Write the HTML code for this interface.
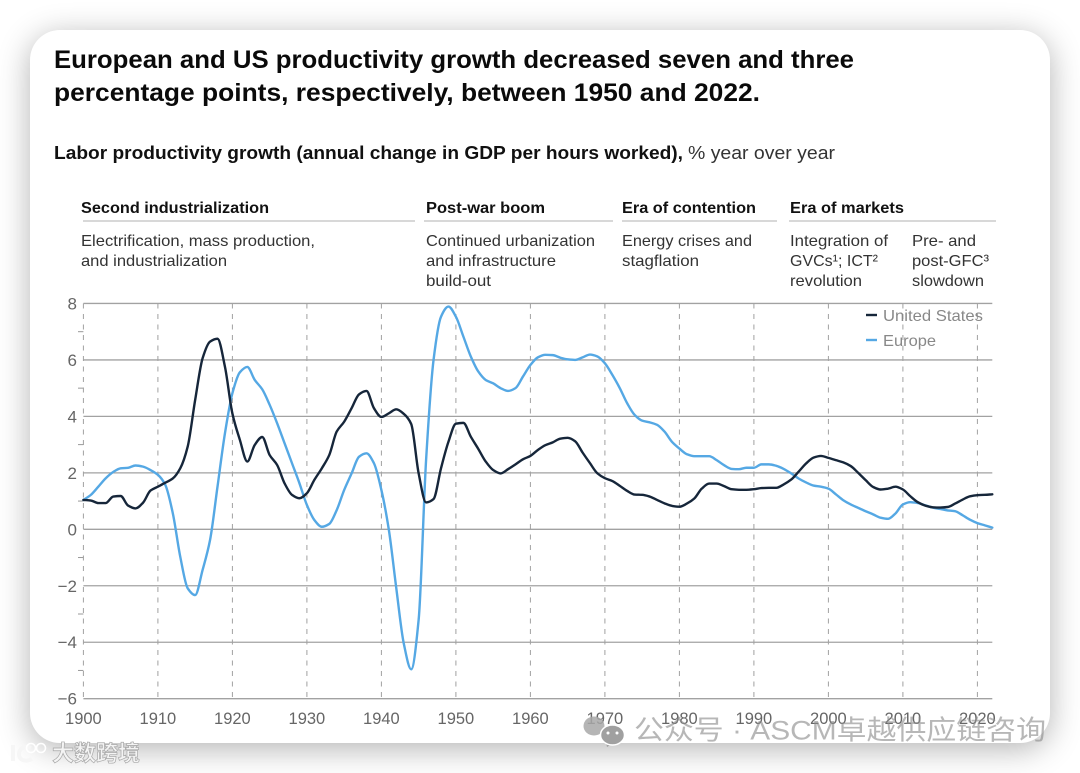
<!DOCTYPE html>
<html lang="en">
<head>
<meta charset="utf-8">
<title>Labor productivity growth</title>
<style>
html,body{margin:0;padding:0;background:#fff;}
#stage{position:relative;width:1080px;height:773px;overflow:hidden;background:#fff;}
#card{position:absolute;left:30px;top:30px;width:1020px;height:713px;background:#fff;border-radius:30px;box-shadow:0 6px 32px rgba(0,0,0,.3);}
#art{position:absolute;left:0;top:0;}
text{font-family:"Liberation Sans","Noto Sans CJK SC",sans-serif;}
.title{font-size:25px;font-weight:700;fill:#0a0a0a;}
.sub{font-size:18px;font-weight:700;fill:#111;}
.subr{font-size:18px;fill:#333;}
.era{font-size:16px;font-weight:700;fill:#111;}
.desc{font-size:16px;fill:#333;}
.tick{font-size:16.5px;fill:#666;}
.ytick{font-size:17px;fill:#666;}
.leg{font-size:16px;fill:#888;}
</style>
</head>
<body>
<div id="stage">
<div id="card"></div>
<svg id="art" width="1080" height="773" viewBox="0 0 1080 773">
  <text class="title" x="54" y="68" textLength="800" lengthAdjust="spacingAndGlyphs">European and US productivity growth decreased seven and three</text>
  <text class="title" x="54" y="101" textLength="706" lengthAdjust="spacingAndGlyphs">percentage points, respectively, between 1950 and 2022.</text>
  <text class="sub" x="54" y="159" textLength="629" lengthAdjust="spacingAndGlyphs">Labor productivity growth (annual change in GDP per hours worked),</text>
  <text class="subr" x="688" y="159" textLength="147" lengthAdjust="spacingAndGlyphs">% year over year</text>

  <text class="era" x="81" y="213" textLength="188" lengthAdjust="spacingAndGlyphs">Second industrialization</text>
  <text class="era" x="426" y="213" textLength="119" lengthAdjust="spacingAndGlyphs">Post-war boom</text>
  <text class="era" x="622" y="213" textLength="134" lengthAdjust="spacingAndGlyphs">Era of contention</text>
  <text class="era" x="790" y="213" textLength="114" lengthAdjust="spacingAndGlyphs">Era of markets</text>

  <line x1="83" x2="415" y1="221" y2="221" stroke="#ccc" stroke-width="1.4"/>
  <line x1="424" x2="613" y1="221" y2="221" stroke="#ccc" stroke-width="1.4"/>
  <line x1="622" x2="777" y1="221" y2="221" stroke="#ccc" stroke-width="1.4"/>
  <line x1="789" x2="996" y1="221" y2="221" stroke="#ccc" stroke-width="1.4"/>

  <text class="desc" x="81" y="246" textLength="234" lengthAdjust="spacingAndGlyphs">Electrification, mass production,</text>
  <text class="desc" x="81" y="266" textLength="146" lengthAdjust="spacingAndGlyphs">and industrialization</text>
  <text class="desc" x="426" y="246" textLength="169" lengthAdjust="spacingAndGlyphs">Continued urbanization</text>
  <text class="desc" x="426" y="266" textLength="130" lengthAdjust="spacingAndGlyphs">and infrastructure</text>
  <text class="desc" x="426" y="286" textLength="65" lengthAdjust="spacingAndGlyphs">build-out</text>
  <text class="desc" x="622" y="246" textLength="130" lengthAdjust="spacingAndGlyphs">Energy crises and</text>
  <text class="desc" x="622" y="266" textLength="77" lengthAdjust="spacingAndGlyphs">stagflation</text>
  <text class="desc" x="790" y="246" textLength="98" lengthAdjust="spacingAndGlyphs">Integration of</text>
  <text class="desc" x="790" y="266">GVCs¹; ICT²</text>
  <text class="desc" x="790" y="286" textLength="72" lengthAdjust="spacingAndGlyphs">revolution</text>
  <text class="desc" x="912" y="246" textLength="64" lengthAdjust="spacingAndGlyphs">Pre- and</text>
  <text class="desc" x="912" y="266" textLength="77" lengthAdjust="spacingAndGlyphs">post-GFC³</text>
  <text class="desc" x="912" y="286" textLength="72" lengthAdjust="spacingAndGlyphs">slowdown</text>

  <g id="grid"></g>
  <g id="axes"></g>
  <g id="series"></g>

  <g>
    <line x1="866" x2="877" y1="315" y2="315" stroke="#16263a" stroke-width="2.4"/>
    <text class="leg" x="883" y="321" textLength="100" lengthAdjust="spacingAndGlyphs">United States</text>
    <line x1="866" x2="877" y1="340" y2="340" stroke="#55a8e4" stroke-width="2.4"/>
    <text class="leg" x="883" y="346" textLength="53" lengthAdjust="spacingAndGlyphs">Europe</text>
  </g>

  <g>
    <ellipse cx="594" cy="726" rx="10.5" ry="9.5" fill="#a8a8a8" opacity=".85"/>
    <path d="M606 743l1 4 5-3z" fill="#a0a0a0"/>
    <ellipse cx="612.5" cy="735" rx="12" ry="10" fill="#a0a0a0" stroke="#fff" stroke-width="1.5"/>
    <circle cx="608" cy="733" r="1.5" fill="#fff"/>
    <circle cx="617" cy="733" r="1.5" fill="#fff"/>
    <text x="634" y="739.5" font-size="27" fill="#8c8c8c" opacity=".62" textLength="412" lengthAdjust="spacingAndGlyphs">公众号 · ASCM卓越供应链咨询</text>
  </g>
  <g>
    <path d="M13 745v16M31 748c-7-3-12 1-12 6s5 9 13 5" fill="none" stroke="#f6f6f6" stroke-width="4"/>
    <circle cx="31" cy="748" r="4.5" fill="none" stroke="#fff" stroke-width="1.6"/>
    <circle cx="41" cy="748" r="4.5" fill="none" stroke="#fff" stroke-width="1.6"/>
    <text x="52" y="761" font-size="22" font-weight="700" fill="#f4f4f4" stroke="#a8a8a8" stroke-width=".7" textLength="88" lengthAdjust="spacingAndGlyphs">大数跨境</text>
  </g>
</svg>
</div>
<script>
const years = [1900,1901,1902,1903,1904,1905,1906,1907,1908,1909,1910,1911,1912,1913,1914,1915,1916,1917,1918,1919,1920,1921,1922,1923,1924,1925,1926,1927,1928,1929,1930,1931,1932,1933,1934,1935,1936,1937,1938,1939,1940,1941,1942,1943,1944,1945,1946,1947,1948,1949,1950,1951,1952,1953,1954,1955,1956,1957,1958,1959,1960,1961,1962,1963,1964,1965,1966,1967,1968,1969,1970,1971,1972,1973,1974,1975,1976,1977,1978,1979,1980,1981,1982,1983,1984,1985,1986,1987,1988,1989,1990,1991,1992,1993,1994,1995,1996,1997,1998,1999,2000,2001,2002,2003,2004,2005,2006,2007,2008,2009,2010,2011,2012,2013,2014,2015,2016,2017,2018,2019,2020,2021,2022];
const unitedStates = [1.04,1.02,.93,.93,1.16,1.18,.84,.74,.94,1.37,1.51,1.65,1.8,2.16,2.93,4.58,6.06,6.65,6.75,5.76,4.1,3.17,2.4,2.99,3.27,2.63,2.28,1.63,1.22,1.1,1.28,1.75,2.16,2.63,3.46,3.81,4.29,4.78,4.9,4.29,3.98,4.11,4.25,4.09,3.73,1.98,.95,1.07,2.16,3.1,3.74,3.77,3.28,2.85,2.4,2.1,1.98,2.13,2.3,2.48,2.6,2.81,2.98,3.08,3.21,3.24,3.12,2.72,2.34,1.98,1.81,1.71,1.54,1.36,1.23,1.22,1.16,1.04,.92,.83,.8,.91,1.09,1.44,1.62,1.62,1.53,1.42,1.4,1.4,1.42,1.46,1.47,1.47,1.59,1.76,2.04,2.33,2.54,2.6,2.53,2.45,2.37,2.24,2,1.74,1.5,1.41,1.44,1.51,1.41,1.17,.96,.84,.78,.77,.79,.91,1.05,1.17,1.21,1.22,1.24];
const europe = [1.04,1.22,1.51,1.81,2.03,2.16,2.18,2.26,2.22,2.1,1.93,1.57,.57,-.97,-2.09,-2.33,-1.44,-.38,1.51,3.4,4.82,5.56,5.75,5.29,4.96,4.41,3.76,3.05,2.34,1.63,.86,.33,.09,.19,.68,1.39,1.98,2.57,2.69,2.34,1.39,-.02,-2.09,-4.04,-4.96,-3.2,2.46,6,7.53,7.89,7.53,6.83,6.12,5.59,5.29,5.17,5,4.9,5,5.41,5.82,6.09,6.18,6.17,6.08,6.02,6,6.09,6.19,6.12,5.88,5.47,5,4.46,4.05,3.85,3.79,3.7,3.46,3.1,2.86,2.66,2.59,2.59,2.59,2.45,2.27,2.14,2.13,2.18,2.18,2.3,2.3,2.25,2.14,1.98,1.8,1.66,1.55,1.51,1.44,1.24,1.03,.88,.76,.64,.53,.41,.37,.56,.88,.96,.93,.85,.77,.72,.67,.64,.5,.34,.22,.14,.06];
const xTickYears = [1900,1910,1920,1930,1940,1950,1960,1970,1980,1990,2000,2010,2020];
const yTickValues = [8,6,4,2,0,-2,-4,-6];
const yMinorValues = [7,5,3,1,-1,-3,-5];

const NS = 'http://www.w3.org/2000/svg';
function xScale(year){ return 83.4 + (year - 1900) * 7.45; }
function yScale(value){ return 529.3 - value * 28.23; }
function make(parent, tag, attrs){
  const el = document.createElementNS(NS, tag);
  for (const k in attrs) el.setAttribute(k, attrs[k]);
  parent.appendChild(el);
  return el;
}
/* Monotone cubic interpolation: keeps extremes on the data points, no overshoot. */
function smoothPath(xs, ys){
  const px = xs.map(xScale), py = ys.map(yScale), n = px.length;
  const slope = [];
  for (let i = 0; i < n - 1; i++) slope.push((py[i + 1] - py[i]) / (px[i + 1] - px[i]));
  const tan = [slope[0]];
  for (let i = 1; i < n - 1; i++){
    tan.push(slope[i - 1] * slope[i] <= 0 ? 0 : 2 * slope[i - 1] * slope[i] / (slope[i - 1] + slope[i]));
  }
  tan.push(slope[n - 2]);
  let d = 'M' + px[0].toFixed(2) + ' ' + py[0].toFixed(2);
  for (let i = 0; i < n - 1; i++){
    const h = (px[i + 1] - px[i]) / 3;
    d += 'C' + (px[i] + h).toFixed(2) + ' ' + (py[i] + tan[i] * h).toFixed(2) + ' ' + (px[i + 1] - h).toFixed(2) + ' ' + (py[i + 1] - tan[i + 1] * h).toFixed(2) + ' ' + px[i + 1].toFixed(2) + ' ' + py[i + 1].toFixed(2);
  }
  return d;
}
const grid = document.getElementById('grid');
const axes = document.getElementById('axes');
const series = document.getElementById('series');
const plotRight = xScale(2022);

xTickYears.forEach(function(year){
  const line = make(grid, 'line', {x1: xScale(year), x2: xScale(year), y1: yScale(8), y2: yScale(-6), stroke: '#a0a0a0', 'stroke-width': 1, 'stroke-dasharray': '5 5.5'});
  
  
  const label = make(axes, 'text', {x: xScale(year), y: 724, 'text-anchor': 'middle', 'class': 'tick'});
  label.textContent = String(year);
  
  
});
yTickValues.forEach(function(value){
  const line = make(grid, 'line', {x1: xScale(1900), x2: plotRight, y1: yScale(value), y2: yScale(value), stroke: '#a2a2a2', 'stroke-width': 1.3});
  
  
  const label = make(axes, 'text', {x: 77, y: yScale(value) + 6, 'text-anchor': 'end', 'class': 'ytick'});
  label.textContent = value < 0 ? '\u2212' + Math.abs(value) : String(value);
  
  
});
yMinorValues.forEach(function(value){
  const tick = make(axes, 'line', {x1: 78, x2: 83.4, y1: yScale(value), y2: yScale(value), stroke: '#999', 'stroke-width': 1});
  
  
});

const europeLine = make(series, 'path', {d: smoothPath(years, europe), fill: 'none', stroke: '#55a8e4', 'stroke-width': 2.4, 'stroke-linejoin': 'round', 'stroke-linecap': 'round'});


const usLine = make(series, 'path', {d: smoothPath(years, unitedStates), fill: 'none', stroke: '#16263a', 'stroke-width': 2.4, 'stroke-linejoin': 'round', 'stroke-linecap': 'round'});


</script>
</body>
</html>
